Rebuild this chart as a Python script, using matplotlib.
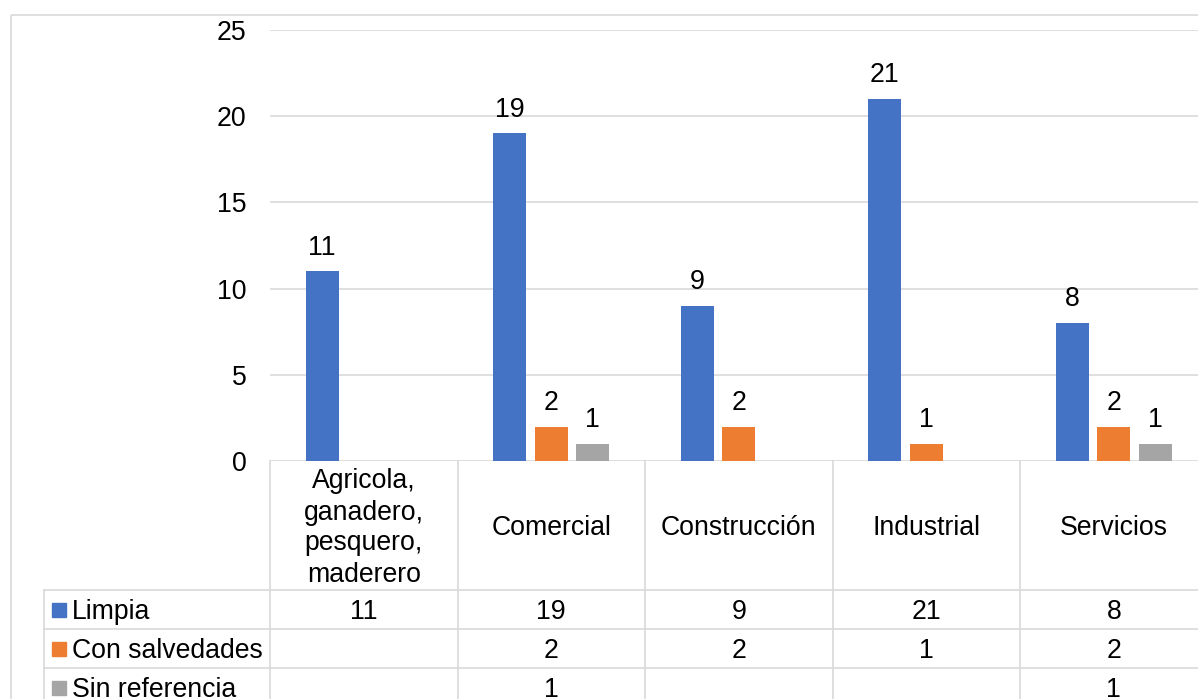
import numpy as np
import matplotlib
matplotlib.use("Agg")
import matplotlib.pyplot as plt
from matplotlib.transforms import Affine2D
from matplotlib.lines import Line2D
from matplotlib.patches import Rectangle

plt.rcParams['font.family'] = ['Liberation Sans', 'DejaVu Sans']

categories = ["Agricola,\nganadero,\npesquero,\nmaderero", "Comercial", "Construcción", "Industrial", "Servicios"]
series_names = ["Limpia", "Con salvedades", "Sin referencia"]
limpia = [11, 19, 9, 21, 8]
con_salvedades = [np.nan, 2, 2, 1, 2]
sin_referencia = [np.nan, 1, np.nan, np.nan, 1]
yticks = [0, 5, 10, 15, 20, 25]
colors = ["#4472C4", "#ED7D31", "#A5A5A5"]

W, H = 1198, 699
fig = plt.figure(figsize=(W / 100, H / 100), dpi=100)
fig.patch.set_facecolor("white")
PX = Affine2D().scale(1 / W, -1 / H).translate(0, 1) + fig.transFigure

FS = 19.2
GRID = "#d9d9d9"
LW = 1.2

# plot area geometry (pixels)
x0, col_w, ncat = 270, 187.5, len(categories)
y_top, y_zero = 30, 461
ax = fig.add_axes([x0 / W, (H - y_zero) / H, col_w * ncat / W, (y_zero - y_top) / H])
ax.set_xlim(-0.5, ncat - 0.5)
ax.set_ylim(0, 25)
for s in ax.spines.values():
    s.set_visible(False)
ax.set_xticks([])
ax.set_yticks(yticks)
ax.tick_params(axis='y', length=0, pad=17, labelsize=FS)
ax.yaxis.grid(True, color=GRID, linewidth=LW)
ax.set_axisbelow(True)
ax.patch.set_alpha(0)

series = [limpia, con_salvedades, sin_referencia]
xs = np.arange(ncat)
bw = 33 / col_w
off = 41.5 / col_w
for i, (vals, c) in enumerate(zip(series, colors)):
    pos = xs + (i - 1) * off
    ax.bar(pos, vals, width=bw, color=c, zorder=3)
    for p, v in zip(pos, vals):
        if not np.isnan(v):
            ax.annotate(f"{int(v)}", (p, v), xytext=(0, 12), textcoords="offset points",
                        ha="center", va="baseline", fontsize=FS)

# outer chart border
fig.add_artist(Rectangle((11, 15), 1400, 1000, transform=PX, fill=False,
                         edgecolor=GRID, linewidth=LW))

# table lines
bounds = [x0 + k * col_w for k in range(ncat + 1)]
row_y = [461, 590, 629, 668, 707]
for xb in bounds:
    fig.add_artist(Line2D([xb, xb], [461, 720], transform=PX, color=GRID, linewidth=LW))
fig.add_artist(Line2D([44, 44], [590, 720], transform=PX, color=GRID, linewidth=LW))
for yb in row_y[1:]:
    fig.add_artist(Line2D([44, 1400], [yb, yb], transform=PX, color=GRID, linewidth=LW))

# header
for k, cat in enumerate(categories):
    cx = x0 + (k + 0.5) * col_w
    fig.text(cx, 528, cat, transform=PX, ha="center", va="center", fontsize=FS,
             linespacing=1.25, multialignment="center")

# rows
for r, (name, vals, c) in enumerate(zip(series_names, series, colors)):
    yc = (row_y[r + 1] + row_y[r + 2]) / 2
    fig.add_artist(Rectangle((52, yc - 6.5), 13.5, 13.5, transform=PX, color=c))
    fig.text(72, yc + 9.5, name, transform=PX, ha="left", va="baseline", fontsize=FS)
    for k, v in enumerate(vals):
        if not np.isnan(v):
            cx = x0 + (k + 0.5) * col_w
            fig.text(cx, yc + 9.5, f"{int(v)}", transform=PX, ha="center", va="baseline", fontsize=FS)

fig.savefig("out.png", dpi=100)
